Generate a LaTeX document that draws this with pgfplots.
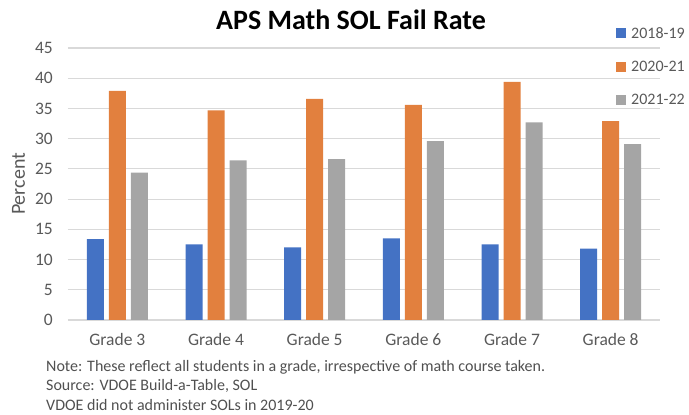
\documentclass[border=0pt]{standalone}
\usepackage{pgfplots}
\pgfplotsset{compat=1.18}
\usepackage{fontspec}
\setmainfont{Carlito}
\definecolor{cblue}{RGB}{68,114,196}
\definecolor{corange}{RGB}{226,128,62}
\definecolor{cgray}{RGB}{165,165,165}
\definecolor{txt}{RGB}{89,89,89}
\definecolor{notetxt}{RGB}{80,80,80}
\definecolor{gridc}{RGB}{217,217,217}
\begin{document}
\begin{tikzpicture}
\useasboundingbox (0,0) rectangle (689pt,415pt);
\begin{axis}[
  at={(68pt,95pt)}, anchor=south west,
  scale only axis, width=592pt, height=272pt,
  ymin=0, ymax=45, ytick={0,5,...,45},
  xmin=-0.5, xmax=5.5, xtick={0,1,2,3,4,5},
  xticklabels={Grade 3,Grade 4,Grade 5,Grade 6,Grade 7,Grade 8},
  ybar=5pt, bar width=17pt,
  axis line style={draw=none},
  major tick length=0pt,
  ymajorgrids, grid style={gridc, line width=1.2pt},
  tick label style={font=\fontsize{17.5}{20}\selectfont, text=txt},
  yticklabel style={anchor=east, inner sep=0pt, xshift=-15pt},
  xticklabel style={anchor=north, inner sep=0pt, yshift=-13pt},
  /pgf/number format/assume math mode=true,
  legend style={at={(0.9206,1.0846)}, anchor=north west, draw=none, fill=none,
    font=\fontsize{16}{18}\selectfont, text=txt, row sep=21.5pt, column sep=5pt,
    nodes={inner sep=0pt}},
  legend cell align=left,
  legend image code/.code={\fill[#1] (0pt,-5pt) rectangle (10pt,5pt);},
]
\addplot[fill=cblue, draw=none] coordinates {(0,13.4) (1,12.5) (2,12.0) (3,13.5) (4,12.5) (5,11.8)};
\addplot[fill=corange, draw=none] coordinates {(0,37.9) (1,34.7) (2,36.6) (3,35.6) (4,39.4) (5,32.9)};
\addplot[fill=cgray, draw=none] coordinates {(0,24.4) (1,26.4) (2,26.6) (3,29.6) (4,32.7) (5,29.1)};
\legend{2018-19,2020-21,2021-22}
\end{axis}
\node[anchor=base, font=\fontsize{28}{32}\selectfont\bfseries] at (351pt,385pt) {APS Math SOL Fail Rate};
\node[rotate=90, font=\fontsize{20}{24}\selectfont, text=txt] at (18.5pt,231pt) {Percent};
\begin{scope}[every node/.style={anchor=base west, inner sep=0pt, font=\fontsize{16}{18}\selectfont, text=notetxt}]
\node at (46pt,43.5pt) {Note: These reflect all students in a grade, irrespective of math course taken.};
\node at (46pt,24pt) {Source: VDOE Build-a-Table, SOL};
\node at (46pt,4.5pt) {VDOE did not administer SOLs in 2019-20};
\end{scope}
\end{tikzpicture}
\end{document}
